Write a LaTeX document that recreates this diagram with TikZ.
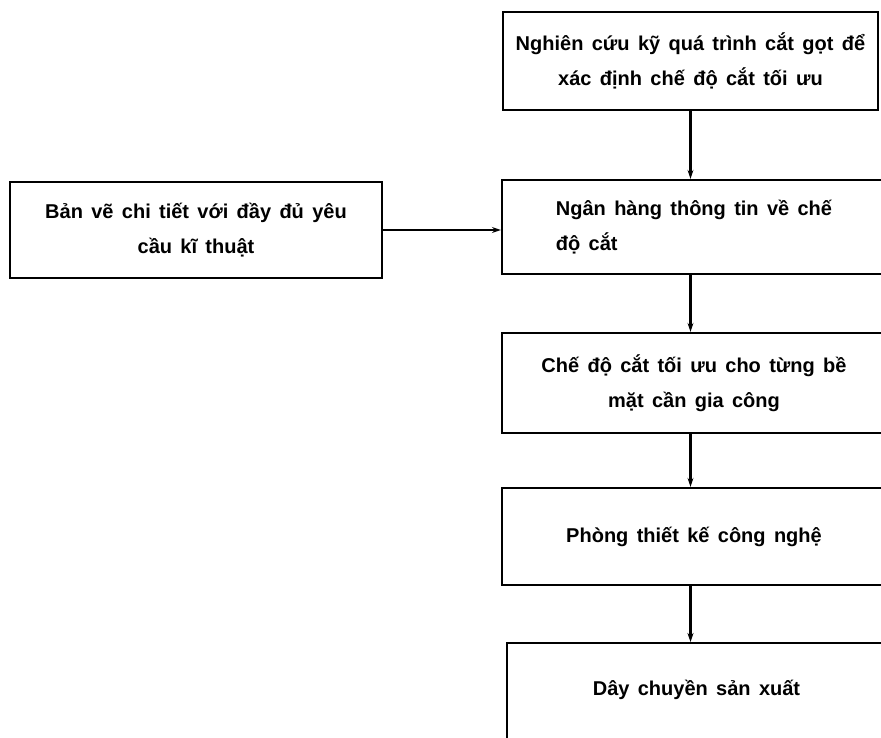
\documentclass[tikz,border=0pt]{standalone}
\usepackage{fontspec}
\setmainfont{Liberation Sans}[WordSpace=1.5]
\usetikzlibrary{arrows.meta}

\tikzset{
  box/.style={draw, line width=2.3pt, inner sep=0pt, align=center,
    font=\bfseries\fontsize{20}{35}\selectfont},
  link/.style={line width=2.2pt, -{Stealth[length=9pt,width=6pt]}}
}

\begin{document}
\begin{tikzpicture}[x=1pt, y=-1pt]
            \useasboundingbox (0,0) rectangle (881,737);
            \node [box, minimum width=375, minimum height=98] (study) at (690.5,61)
                {Nghiên cứu kỹ quá trình cắt gọt để\\xác định chế độ cắt tối ưu};
            \node [box, minimum width=372, minimum height=96] (drawing) at (196,230)
                {Bản vẽ chi tiết với đầy đủ yêu\\cầu kĩ thuật};
            \node [box, minimum width=384, minimum height=94, align=left] (bank) at (694,227)
                {Ngân hàng thông tin về chế\\độ cắt};
            \node [box, minimum width=384, minimum height=100] (mode) at (694,383)
                {Chế độ cắt tối ưu cho từng bề\\mặt cần gia công};
            \node [box, minimum width=384, minimum height=97] (office) at (694,536.5)
                {Phòng thiết kế công nghệ};
            \node [box, minimum width=379, text height=52, text depth=60, anchor=north] (line) at (696.5,642)
                {Dây chuyền sản xuất};
            \draw[link] (study.south) -- (study.south |- bank.north);
            \draw[link] (drawing.east) -- (drawing.east -| bank.west);
            \draw[link] (bank.south -| study.south) -- (mode.north -| study.south);
            \draw[link] (mode.south -| study.south) -- (office.north -| study.south);
            \draw[link] (office.south -| study.south) -- (line.north -| study.south);
        \end{tikzpicture}
\end{document}
